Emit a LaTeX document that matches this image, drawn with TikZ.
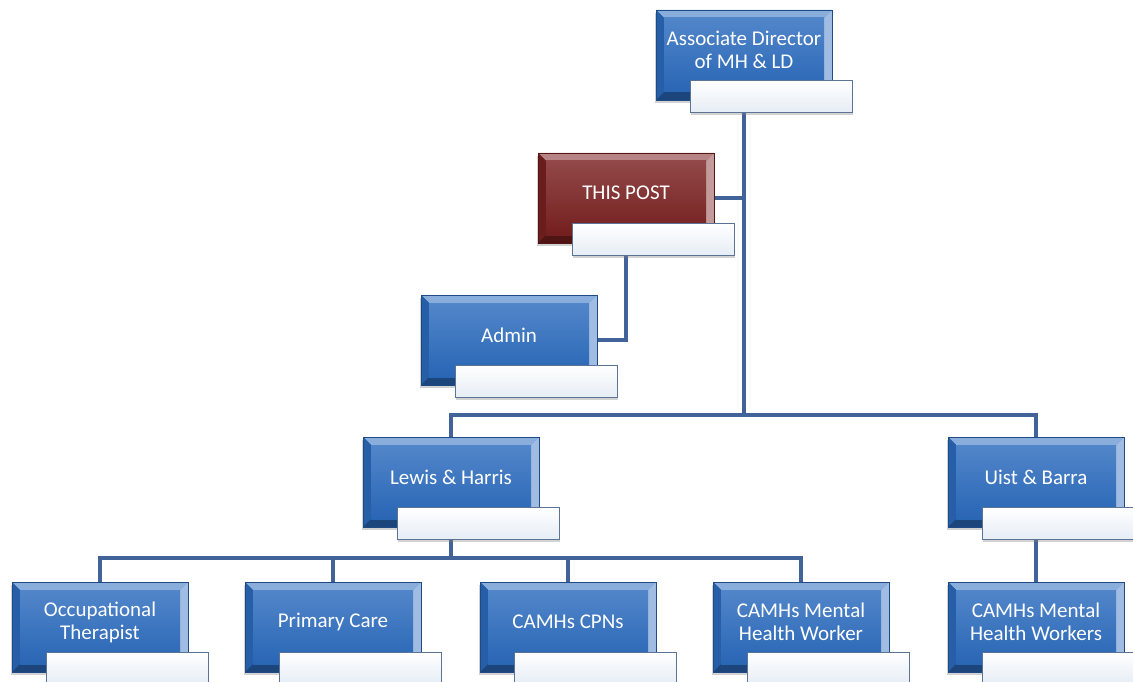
\documentclass[tikz,border=0pt]{standalone}
\usepackage{fontspec}
\setmainfont{Carlito}
\usetikzlibrary{shadows,backgrounds}
\definecolor{boxblue}{HTML}{2B6BBE}
\definecolor{postred}{HTML}{7A2020}
\definecolor{linec}{HTML}{42629A}
\definecolor{wbord}{HTML}{5B7394}
\definecolor{wbot}{HTML}{E6EDF5}
\tikzset{
  bevelbox/.style={minimum width=176pt, minimum height=90pt, inner sep=0pt,
    draw=#1!70!black, line width=0.6pt, fill=#1,
    drop shadow={shadow xshift=-1pt, shadow yshift=-3pt, opacity=0.35},
    path picture={
      \fill[#1!55!white] (path picture bounding box.north west) -- (path picture bounding box.north east)
        -- ([shift={(-8pt,-8pt)}]path picture bounding box.north east) -- ([shift={(8pt,-8pt)}]path picture bounding box.north west) -- cycle;
      \fill[#1!88!black] (path picture bounding box.north west) -- ([shift={(8pt,-8pt)}]path picture bounding box.north west)
        -- ([shift={(8pt,8pt)}]path picture bounding box.south west) -- (path picture bounding box.south west) -- cycle;
      \fill[#1!45!white] (path picture bounding box.north east) -- ([shift={(-8pt,-8pt)}]path picture bounding box.north east)
        -- ([shift={(-8pt,8pt)}]path picture bounding box.south east) -- (path picture bounding box.south east) -- cycle;
      \fill[#1!65!black] (path picture bounding box.south west) -- ([shift={(8pt,8pt)}]path picture bounding box.south west)
        -- ([shift={(-8pt,8pt)}]path picture bounding box.south east) -- (path picture bounding box.south east) -- cycle;
      \shade[top color=#1!82!white, bottom color=#1!95!black] ([shift={(8pt,-8pt)}]path picture bounding box.north west) rectangle ([shift={(-8pt,8pt)}]path picture bounding box.south east);
    }},
  whitebox/.style={minimum width=162pt, minimum height=32pt, inner sep=0pt,
    draw=wbord, line width=1pt, top color=white, bottom color=wbot,
    drop shadow={shadow xshift=1pt, shadow yshift=-3pt, opacity=0.35}},
  boxtext/.style={font=\fontsize{21}{23}\selectfont, text=white, align=center, inner sep=0pt},
  conn/.style={draw=linec, line width=3.5pt}
}
\newcommand\orgbox[5]{%
  \node[bevelbox=#4] (#1) at (#2,#3) {};
  \node[boxtext] (#1-t) at ([yshift=5pt]#1.center) {#5};
  \node[whitebox, anchor=north west] (#1-w) at ([xshift=34pt,yshift=-70pt]#1.north west) {};
}
\begin{document}
\begin{tikzpicture}[x=1pt,y=-1pt]
\begin{pgfonlayer}{background}
\fill[white] (0,0) rectangle (1133,682);
\end{pgfonlayer}
\useasboundingbox (0,0) rectangle (1133,682);
\orgbox{ad}{744}{55}{boxblue}{Associate Director\\of MH \& LD}
\orgbox{post}{626}{198}{postred}{THIS POST}
\orgbox{admin}{509}{340}{boxblue}{Admin}
\orgbox{lh}{451}{482}{boxblue}{Lewis \& Harris}
\orgbox{ub}{1036}{482}{boxblue}{Uist \& Barra}
\orgbox{ot}{100}{627}{boxblue}{Occupational\\Therapist}
\orgbox{pc}{333}{627}{boxblue}{Primary Care}
\orgbox{cpn}{568}{627}{boxblue}{CAMHs CPNs}
\orgbox{mhw}{801}{627}{boxblue}{CAMHs Mental\\Health Worker}
\orgbox{ub2}{1036}{627}{boxblue}{CAMHs Mental\\Health Workers}
\coordinate (bus1) at (ad.south |- 0,415);
\coordinate (bus2) at (lh.south |- 0,558);
\begin{pgfonlayer}{background}
\draw[conn] (ad.south) -- (bus1);
\draw[conn] (post.east) -- (post.east -| ad.south);
\draw[conn] (post.south) |- (admin.east);
\draw[conn] (lh.north) |- (bus1) -| (ub.north);
\draw[conn] (lh.south) -- (bus2);
\draw[conn] (ot.north) |- (bus2) -| (mhw.north);
\draw[conn] (pc.north) |- (bus2);
\draw[conn] (cpn.north) |- (bus2);
\draw[conn] (ub.south) -- (ub2.north);
\end{pgfonlayer}
\end{tikzpicture}
\end{document}
